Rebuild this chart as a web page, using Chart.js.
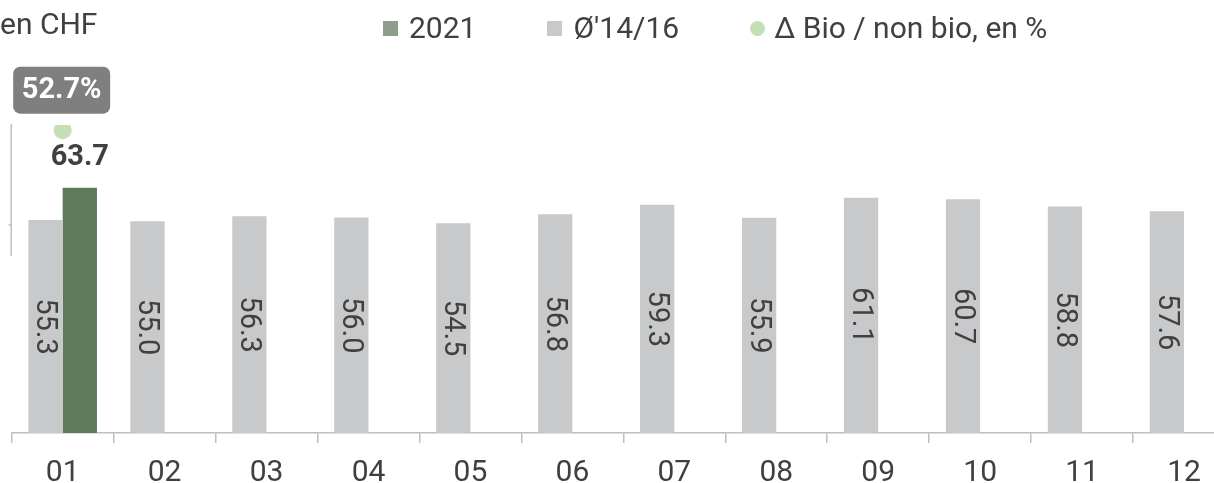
<!DOCTYPE html>
<html><head><meta charset="utf-8">
<script src="https://cdn.jsdelivr.net/npm/chart.js@4.4.1/dist/chart.umd.min.js"></script>
<style>
html,body{margin:0;padding:0;overflow:hidden;background:#fff;width:1214px;height:483px;font-family:Roboto,sans-serif;}
#wrap{position:absolute;left:0;top:0;width:1244px;height:483px;}
#unit{position:absolute;left:0;top:6px;font-size:30px;line-height:36px;color:#404040;white-space:nowrap;}
#legend{position:absolute;left:383px;top:10px;display:flex;align-items:center;font-size:30px;line-height:36px;color:#404040;white-space:nowrap;}
.item{display:flex;align-items:center;margin-right:71px}
.sw{width:15px;height:15px;margin-right:11px}
.dot{border-radius:50%;margin-right:9px}
</style></head>
<body>
<div id="wrap"><canvas id="c"></canvas></div>
<div id="unit">en CHF</div>
<div id="legend"></div>
<script>
const categories = ['01','02','03','04','05','06','07','08','09','10','11','12'];
const values2021 = [63.7, null, null, null, null, null, null, null, null, null, null, null];
const valuesAvg = [55.3, 55.0, 56.3, 56.0, 54.5, 56.8, 59.3, 55.9, 61.1, 60.7, 58.8, 57.6];
const deltaBio = [52.7, null, null, null, null, null, null, null, null, null, null, null];
const seriesNames = ['2021', "Ø'14/16", 'Δ Bio / non bio, en %'];

const C_GREEN = '#5e7a5a', C_GREEN_LEG = '#8d9f8a', C_GREY = '#c8c9cb', C_DOT = '#c5e0b4', TXT = '#404040', AX = '#bfbfbf';

// HTML legend
const leg = document.getElementById('legend');
[[seriesNames[0], C_GREEN_LEG, false], [seriesNames[1], C_GREY, false], [seriesNames[2], C_DOT, true]].forEach(([t, c, round]) => {
  const it = document.createElement('div'); it.className = 'item';
  const sw = document.createElement('span'); sw.className = 'sw' + (round ? ' dot' : ''); sw.style.background = c;
  const tx = document.createElement('span'); tx.textContent = t;
  it.appendChild(sw); it.appendChild(tx); leg.appendChild(it);
});

const labelPlugin = {
  id: 'labels',
  afterDatasetsDraw(chart) {
    const ctx = chart.ctx;
    const ys = chart.scales.y;
    const ca = chart.chartArea;
    // short percent axis line
    ctx.save();
    ctx.strokeStyle = AX; ctx.lineWidth = 1.5;
    ctx.beginPath();
    ctx.moveTo(ca.left - 0.5, ca.top - 1);
    ctx.lineTo(ca.left - 0.5, ys.getPixelForValue(46));
    ctx.moveTo(ca.left - 3, ys.getPixelForValue(54));
    ctx.lineTo(ca.left - 0.5, ys.getPixelForValue(54));
    ctx.stroke();
    ctx.restore();

    // grey bars: rotated labels
    const mAvg = chart.getDatasetMeta(0);
    mAvg.data.forEach((bar, i) => {
      const v = valuesAvg[i]; if (v == null) return;
      ctx.save();
      ctx.translate(bar.x, (bar.y + bar.base) / 2);
      ctx.rotate(Math.PI / 2);
      ctx.font = '29px Roboto'; ctx.fillStyle = TXT;
      ctx.textAlign = 'center'; ctx.textBaseline = 'middle';
      ctx.fillText(v.toFixed(1), 0, 1);
      ctx.restore();
    });
    // 2021 bars
    const m21 = chart.getDatasetMeta(1);
    m21.data.forEach((bar, i) => {
      const v = values2021[i]; if (v == null) return;
      ctx.save();
      ctx.font = 'bold 29px Roboto'; ctx.fillStyle = TXT;
      ctx.textAlign = 'center'; ctx.textBaseline = 'middle';
      ctx.fillText(v.toFixed(1), bar.x, bar.y - 30);
      ctx.restore();
    });
    // delta points
    const mD = chart.getDatasetMeta(2);
    mD.data.forEach((pt, i) => {
      const v = deltaBio[i]; if (v == null) return;
      const cx = pt.x - 1, cy = pt.y - 40, w = 97, h = 47;
      ctx.save();
      ctx.fillStyle = '#7f7f7f';
      ctx.beginPath();
      ctx.roundRect(cx - w / 2, cy - h / 2, w, h, 7);
      ctx.fill();
      ctx.font = 'bold 29px Roboto'; ctx.fillStyle = '#ffffff';
      ctx.textAlign = 'center'; ctx.textBaseline = 'middle';
      ctx.fillText(v.toFixed(1) + '%', cx, cy + 1);
      ctx.restore();
    });
  }
};

new Chart(document.getElementById('c'), {
  type: 'bar',
  data: {
    labels: categories,
    datasets: [
      { label: seriesNames[1], data: valuesAvg, backgroundColor: C_GREY, yAxisID: 'y', order: 2 },
      { label: seriesNames[0], data: values2021, backgroundColor: C_GREEN, yAxisID: 'y', order: 2 },
      { type: 'line', label: seriesNames[2], data: deltaBio, yAxisID: 'y2', showLine: false,
        pointRadius: 9, pointHoverRadius: 9, pointBackgroundColor: C_DOT, pointBorderWidth: 0, borderColor: C_DOT, order: 1 }
    ]
  },
  options: {
    responsive: true, maintainAspectRatio: false, animation: false,
    layout: { padding: { left: 11.7, right: 1.4, top: 125, bottom: 0 } },
    datasets: { bar: { categoryPercentage: 0.6725, barPercentage: 1 } },
    plugins: { legend: { display: false }, tooltip: { enabled: false }, title: { display: false } },
    scales: {
      x: {
        grid: { display: true, drawOnChartArea: false, drawTicks: true, tickLength: 10, color: AX, lineWidth: 1.5, offset: true },
        border: { display: true, color: AX, width: 1.5 },
        ticks: { font: { family: 'Roboto', size: 30 }, color: TXT, padding: 12, maxRotation: 0 },
        afterFit(s) { s.height = 50; }
      },
      y: { display: false, min: 0, max: 80 },
      y2: { display: false, min: 0, max: 53.6 }
    }
  },
  plugins: [labelPlugin]
});
</script>
</body></html>
